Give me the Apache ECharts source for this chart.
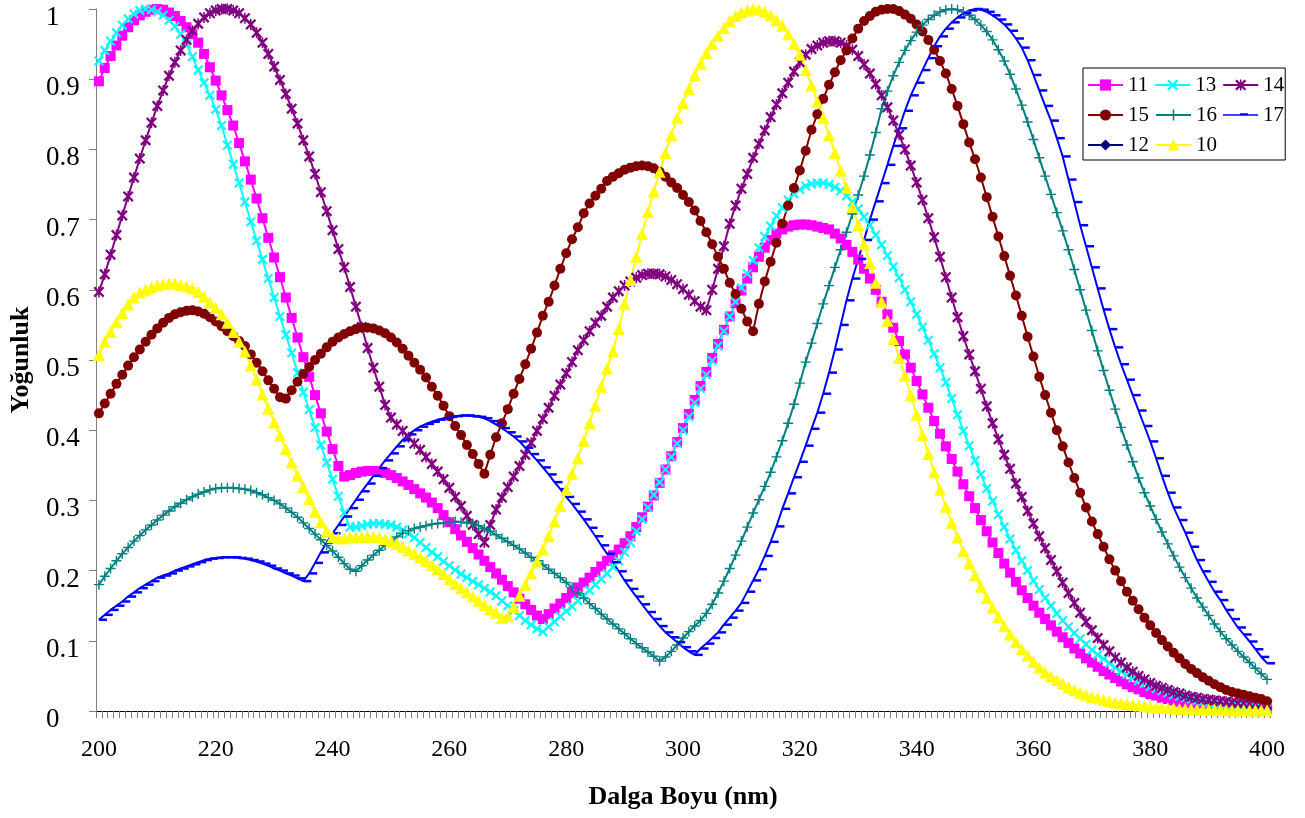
<!DOCTYPE html>
<html>
<head>
<meta charset="utf-8">
<script src="https://cdn.jsdelivr.net/npm/echarts@6/dist/echarts.min.js"></script>
<style>html,body{margin:0;padding:0;background:#fff;}#c{width:1305px;height:818px;}</style>
</head>
<body>
<div id="c"></div>
<script>
// wavelength categories 200..400 nm (1 nm step)
const categories = [];
for (let w = 200; w <= 400; w++) categories.push(String(w));

const s11 = [
0.897,0.916,0.933,0.948,0.962,0.974,0.984,0.991,0.996,0.999,
1.000,0.999,0.995,0.990,0.983,0.974,0.964,0.952,0.936,0.917,
0.898,0.877,0.856,0.834,0.809,0.783,0.757,0.730,0.702,0.674,
0.646,0.618,0.589,0.560,0.532,0.504,0.476,0.450,0.424,0.398,
0.373,0.349,0.334,0.336,0.339,0.341,0.342,0.342,0.341,0.339,
0.336,0.332,0.327,0.322,0.316,0.310,0.304,0.297,0.289,0.279,
0.269,0.259,0.250,0.241,0.232,0.223,0.214,0.205,0.196,0.187,
0.178,0.169,0.160,0.152,0.144,0.136,0.131,0.138,0.146,0.153,
0.161,0.168,0.176,0.183,0.190,0.198,0.206,0.214,0.222,0.230,
0.239,0.249,0.262,0.276,0.291,0.307,0.325,0.344,0.363,0.383,
0.403,0.423,0.443,0.463,0.483,0.503,0.523,0.543,0.562,0.581,
0.599,0.616,0.632,0.647,0.660,0.671,0.680,0.686,0.690,0.692,
0.693,0.693,0.692,0.690,0.688,0.686,0.680,0.673,0.664,0.654,
0.643,0.630,0.616,0.600,0.583,0.565,0.546,0.527,0.508,0.489,
0.470,0.451,0.432,0.413,0.395,0.377,0.359,0.341,0.323,0.306,
0.289,0.272,0.256,0.240,0.225,0.210,0.197,0.184,0.172,0.161,
0.150,0.140,0.131,0.122,0.113,0.105,0.097,0.089,0.082,0.075,
0.069,0.063,0.057,0.052,0.047,0.042,0.038,0.034,0.031,0.027,
0.024,0.022,0.019,0.017,0.015,0.013,0.012,0.011,0.010,0.009,
0.008,0.007,0.006,0.006,0.005,0.005,0.004,0.004,0.003,0.003,0.003];

const s13 = [
0.926,0.941,0.954,0.966,0.977,0.986,0.993,0.998,1.000,0.999,
0.996,0.991,0.984,0.975,0.964,0.950,0.932,0.913,0.895,0.877,
0.857,0.834,0.806,0.779,0.752,0.725,0.697,0.670,0.643,0.616,
0.589,0.562,0.536,0.510,0.482,0.454,0.429,0.404,0.379,0.354,
0.330,0.306,0.282,0.262,0.262,0.264,0.266,0.267,0.267,0.266,
0.265,0.262,0.258,0.253,0.247,0.240,0.233,0.226,0.220,0.213,
0.207,0.201,0.195,0.190,0.185,0.180,0.175,0.170,0.164,0.157,
0.150,0.143,0.136,0.129,0.123,0.117,0.113,0.120,0.127,0.135,
0.142,0.149,0.157,0.164,0.172,0.180,0.188,0.196,0.205,0.214,
0.226,0.240,0.256,0.273,0.290,0.308,0.326,0.344,0.362,0.381,
0.400,0.419,0.439,0.459,0.479,0.499,0.520,0.541,0.562,0.583,
0.603,0.623,0.642,0.660,0.676,0.691,0.705,0.717,0.728,0.737,
0.743,0.748,0.751,0.752,0.752,0.750,0.746,0.741,0.734,0.725,
0.715,0.704,0.692,0.678,0.664,0.649,0.633,0.617,0.600,0.583,
0.565,0.547,0.528,0.509,0.489,0.468,0.445,0.422,0.399,0.378,
0.357,0.337,0.317,0.299,0.280,0.262,0.245,0.229,0.214,0.200,
0.186,0.173,0.161,0.150,0.139,0.129,0.120,0.111,0.103,0.095,
0.087,0.080,0.074,0.068,0.062,0.057,0.052,0.047,0.043,0.039,
0.035,0.032,0.029,0.026,0.023,0.021,0.019,0.017,0.015,0.014,
0.012,0.011,0.010,0.009,0.008,0.007,0.007,0.006,0.005,0.005,0.004];

const s14 = [
0.597,0.622,0.650,0.678,0.706,0.733,0.760,0.787,0.813,0.838,
0.862,0.884,0.905,0.924,0.941,0.956,0.969,0.979,0.988,0.994,
0.998,1.000,1.000,0.998,0.994,0.987,0.978,0.966,0.952,0.936,
0.918,0.899,0.879,0.858,0.837,0.813,0.790,0.765,0.739,0.712,
0.685,0.658,0.632,0.604,0.576,0.547,0.517,0.489,0.462,0.436,
0.418,0.408,0.399,0.390,0.381,0.372,0.362,0.352,0.341,0.330,
0.318,0.305,0.292,0.278,0.265,0.252,0.240,0.265,0.287,0.304,
0.319,0.334,0.349,0.365,0.382,0.399,0.416,0.432,0.449,0.465,
0.481,0.497,0.514,0.528,0.541,0.553,0.563,0.576,0.589,0.598,
0.606,0.612,0.617,0.621,0.623,0.623,0.622,0.619,0.614,0.608,
0.601,0.593,0.584,0.576,0.571,0.600,0.630,0.662,0.694,0.720,
0.744,0.765,0.788,0.808,0.827,0.846,0.864,0.880,0.895,0.911,
0.924,0.935,0.943,0.948,0.952,0.954,0.954,0.952,0.948,0.942,
0.933,0.921,0.908,0.893,0.877,0.860,0.841,0.821,0.800,0.777,
0.753,0.728,0.702,0.675,0.647,0.618,0.589,0.561,0.534,0.508,
0.484,0.459,0.434,0.410,0.387,0.365,0.345,0.324,0.305,0.285,
0.267,0.249,0.232,0.215,0.199,0.183,0.168,0.154,0.140,0.127,
0.115,0.104,0.094,0.085,0.076,0.069,0.062,0.056,0.050,0.045,
0.040,0.036,0.033,0.030,0.027,0.025,0.022,0.020,0.019,0.017,
0.016,0.015,0.014,0.013,0.012,0.011,0.011,0.010,0.010,0.009,0.009];

const s15 = [
0.424,0.438,0.452,0.466,0.479,0.492,0.504,0.515,0.526,0.536,
0.545,0.553,0.560,0.565,0.568,0.570,0.571,0.569,0.566,0.561,
0.555,0.548,0.541,0.534,0.527,0.520,0.508,0.496,0.484,0.471,
0.459,0.447,0.445,0.457,0.469,0.480,0.490,0.500,0.509,0.518,
0.526,0.532,0.537,0.541,0.544,0.546,0.546,0.545,0.542,0.538,
0.532,0.525,0.516,0.506,0.496,0.486,0.475,0.462,0.449,0.435,
0.420,0.406,0.393,0.379,0.366,0.352,0.338,0.365,0.390,0.410,
0.430,0.452,0.473,0.494,0.516,0.539,0.563,0.583,0.606,0.630,
0.652,0.672,0.689,0.709,0.723,0.734,0.744,0.755,0.761,0.766,
0.771,0.774,0.776,0.777,0.776,0.773,0.768,0.761,0.753,0.745,
0.735,0.725,0.713,0.698,0.682,0.665,0.647,0.630,0.610,0.594,
0.573,0.555,0.541,0.580,0.612,0.640,0.667,0.694,0.720,0.745,
0.770,0.798,0.828,0.850,0.872,0.892,0.910,0.927,0.941,0.958,
0.972,0.983,0.990,0.996,0.999,1.000,1.000,0.997,0.992,0.986,
0.978,0.968,0.956,0.942,0.926,0.908,0.886,0.862,0.836,0.810,
0.786,0.760,0.732,0.704,0.676,0.648,0.620,0.592,0.563,0.533,
0.505,0.476,0.450,0.425,0.400,0.377,0.354,0.332,0.311,0.290,
0.270,0.252,0.234,0.216,0.200,0.185,0.170,0.157,0.145,0.133,
0.122,0.111,0.101,0.092,0.083,0.075,0.067,0.060,0.054,0.048,
0.043,0.038,0.034,0.030,0.027,0.025,0.023,0.021,0.019,0.017,0.014];

const s16 = [
0.180,0.192,0.203,0.214,0.224,0.233,0.242,0.250,0.258,0.265,
0.272,0.279,0.285,0.291,0.296,0.301,0.305,0.309,0.312,0.315,
0.317,0.318,0.318,0.318,0.317,0.316,0.314,0.311,0.308,0.304,
0.300,0.295,0.289,0.283,0.276,0.268,0.260,0.252,0.244,0.236,
0.228,0.219,0.210,0.202,0.199,0.207,0.215,0.222,0.229,0.236,
0.242,0.248,0.253,0.257,0.260,0.262,0.264,0.266,0.267,0.268,
0.269,0.270,0.269,0.268,0.267,0.264,0.260,0.256,0.251,0.246,
0.241,0.236,0.231,0.225,0.219,0.214,0.208,0.202,0.196,0.190,
0.183,0.176,0.168,0.161,0.153,0.146,0.138,0.131,0.124,0.117,
0.110,0.103,0.096,0.090,0.084,0.078,0.071,0.077,0.085,0.094,
0.104,0.113,0.121,0.129,0.139,0.152,0.168,0.185,0.203,0.222,
0.242,0.262,0.282,0.301,0.320,0.340,0.362,0.385,0.410,0.437,
0.467,0.497,0.524,0.552,0.580,0.606,0.632,0.657,0.682,0.708,
0.735,0.762,0.792,0.824,0.858,0.883,0.905,0.924,0.941,0.955,
0.967,0.977,0.985,0.991,0.996,0.999,1.000,0.999,0.996,0.991,
0.985,0.977,0.968,0.956,0.942,0.926,0.907,0.886,0.863,0.839,
0.814,0.788,0.762,0.736,0.710,0.684,0.657,0.629,0.600,0.571,
0.542,0.513,0.485,0.457,0.430,0.404,0.379,0.355,0.332,0.311,
0.292,0.273,0.255,0.238,0.221,0.205,0.190,0.175,0.161,0.148,
0.136,0.124,0.113,0.103,0.094,0.085,0.077,0.069,0.061,0.053,0.045];

const s17 = [
0.130,0.137,0.144,0.150,0.156,0.163,0.169,0.175,0.180,0.185,
0.190,0.193,0.196,0.200,0.203,0.206,0.209,0.212,0.215,0.217,
0.218,0.219,0.219,0.219,0.218,0.217,0.215,0.213,0.210,0.207,
0.203,0.200,0.196,0.193,0.189,0.185,0.196,0.211,0.226,0.240,
0.253,0.265,0.277,0.289,0.301,0.313,0.324,0.335,0.346,0.357,
0.367,0.377,0.386,0.394,0.400,0.405,0.409,0.412,0.415,0.417,
0.419,0.420,0.421,0.421,0.420,0.419,0.417,0.413,0.408,0.403,
0.397,0.391,0.384,0.375,0.366,0.357,0.347,0.337,0.326,0.316,
0.305,0.295,0.284,0.273,0.261,0.249,0.236,0.224,0.212,0.199,
0.186,0.174,0.163,0.152,0.141,0.131,0.121,0.112,0.105,0.098,
0.091,0.085,0.080,0.089,0.096,0.104,0.112,0.123,0.133,0.143,
0.154,0.170,0.186,0.202,0.221,0.241,0.263,0.288,0.310,0.333,
0.355,0.378,0.402,0.425,0.452,0.482,0.515,0.550,0.585,0.616,
0.644,0.671,0.700,0.726,0.752,0.778,0.805,0.830,0.855,0.877,
0.895,0.913,0.930,0.947,0.961,0.972,0.981,0.988,0.994,0.998,
1.000,0.999,0.996,0.991,0.985,0.978,0.969,0.958,0.945,0.927,
0.906,0.884,0.862,0.841,0.816,0.790,0.757,0.725,0.692,0.662,
0.632,0.602,0.572,0.544,0.518,0.494,0.472,0.450,0.428,0.406,
0.384,0.360,0.335,0.311,0.290,0.272,0.254,0.234,0.215,0.199,
0.184,0.170,0.158,0.144,0.131,0.119,0.109,0.099,0.088,0.077,0.068];

// series 12 is listed in the legend but no curve of it is visible in the chart
const s12 = [];

const s10 = [
0.507,0.526,0.540,0.554,0.567,0.579,0.589,0.596,0.600,0.604,
0.606,0.608,0.609,0.609,0.607,0.605,0.602,0.597,0.590,0.582,
0.574,0.565,0.553,0.540,0.526,0.512,0.492,0.472,0.451,0.431,
0.411,0.392,0.373,0.354,0.336,0.319,0.302,0.284,0.269,0.256,
0.248,0.246,0.246,0.247,0.248,0.248,0.248,0.248,0.247,0.245,
0.242,0.238,0.234,0.229,0.224,0.219,0.214,0.208,0.202,0.195,
0.188,0.181,0.175,0.169,0.163,0.157,0.151,0.145,0.140,0.133,
0.135,0.148,0.164,0.180,0.196,0.213,0.230,0.249,0.270,0.292,
0.315,0.338,0.360,0.385,0.410,0.435,0.462,0.488,0.512,0.544,
0.580,0.614,0.647,0.680,0.711,0.740,0.768,0.795,0.820,0.845,
0.866,0.886,0.906,0.922,0.937,0.950,0.962,0.973,0.983,0.990,
0.995,0.998,1.000,0.999,0.996,0.991,0.984,0.976,0.964,0.950,
0.935,0.913,0.891,0.868,0.845,0.820,0.795,0.770,0.745,0.718,
0.692,0.665,0.638,0.610,0.583,0.556,0.530,0.503,0.478,0.450,
0.422,0.393,0.366,0.340,0.315,0.291,0.268,0.247,0.228,0.210,
0.193,0.177,0.161,0.147,0.134,0.121,0.109,0.098,0.088,0.079,
0.070,0.062,0.055,0.049,0.044,0.039,0.034,0.030,0.026,0.023,
0.020,0.018,0.016,0.014,0.012,0.011,0.010,0.009,0.008,0.007,
0.006,0.005,0.005,0.004,0.004,0.003,0.003,0.003,0.002,0.002,
0.002,0.002,0.002,0.001,0.001,0.001,0.001,0.001,0.001,0.001,0.001];

const legendNames = ['11', '13', '14', '15', '16', '17', '12', '10'];
const xTitle = 'Dalga Boyu (nm)';
const yTitle = 'Yoğunluk';

const FONT = "'Liberation Serif','Times New Roman',serif";
const SYM_X = 'path://M0,1.5L1.5,0L5,3.5L8.5,0L10,1.5L6.5,5L10,8.5L8.5,10L5,6.5L1.5,10L0,8.5L3.5,5Z';
const SYM_STAR = 'path://M0,1.5L1.5,0L5,3.5L8.5,0L10,1.5L6.5,5L10,8.5L8.5,10L5,6.5L1.5,10L0,8.5L3.5,5Z M4.3,0H5.7V10H4.3Z';
const SYM_PLUS = 'path://M4.3,0H5.7V4.3H10V5.7H5.7V10H4.3V5.7H0V4.3H4.3Z';
const SYM_DASH = 'path://M0,0H10V3H0Z';
// legend icon for series 17: line with a short dash in the middle (tiny corner specks fix the box)
const LEG_DASH = 'path://M0,0L0.01,0L0,0.01Z M35,14L34.99,14L35,13.99Z M0,6.2H35V7.8H0Z M17,5.2H25V7.8H17Z';

function mk(name, data, color, symbol, size, extra) {
  return Object.assign({
    name: name, type: 'line', data: data,
    symbol: symbol, symbolSize: size, showSymbol: true, showAllSymbol: true,
    lineStyle: { color: color, width: 2 },
    itemStyle: { color: color, borderWidth: 0 },
    emphasis: { disabled: true }, silent: true, animation: false
  }, extra || {});
}

const legendData = legendNames.map(n => n === '17' ? { name: n, icon: LEG_DASH } : { name: n });

const chart = echarts.init(document.getElementById('c'), null, { renderer: 'canvas' });
chart.setOption({
  backgroundColor: '#ffffff',
  animation: false,
  grid: { left: 96, right: 35, top: 9, bottom: 107 },
  legend: {
    left: 1083, top: 68, width: 215, orient: 'horizontal',
    padding: [5, 1, 3, 4], itemGap: 6, itemWidth: 35, itemHeight: 14,
    borderColor: '#000', borderWidth: 1, backgroundColor: '#fff',
    textStyle: { fontFamily: FONT, fontSize: 21, color: '#000', lineHeight: 24 },
    data: legendData
  },
  xAxis: {
    type: 'category', data: categories, boundaryGap: true,
    name: xTitle, nameLocation: 'middle', nameGap: 73,
    nameTextStyle: { fontFamily: FONT, fontSize: 26, fontWeight: 'bold', color: '#000' },
    axisLine: { lineStyle: { color: '#000', width: 1 } },
    axisTick: { show: true, interval: 0, length: 7, lineStyle: { color: '#808080' } },
    axisLabel: { interval: 19, margin: 27, fontFamily: FONT, fontSize: 24, color: '#000' },
    splitLine: { show: false }
  },
  yAxis: {
    type: 'value', min: 0, max: 1, interval: 0.1,
    name: yTitle, nameLocation: 'middle', nameGap: 62, nameRotate: 90,
    nameTextStyle: { fontFamily: FONT, fontSize: 26, fontWeight: 'bold', color: '#000' },
    axisLine: { show: true, lineStyle: { color: '#808080', width: 1 } },
    axisTick: { show: true, length: 7, lineStyle: { color: '#808080' } },
    axisLabel: { align: 'left', verticalAlign: 'top', lineHeight: 18, margin: 50, fontFamily: FONT, fontSize: 27, color: '#000' },
    splitLine: { show: false }
  },
  series: [
    mk('11', s11, '#FF00FF', 'rect', 10),
    mk('13', s13, '#00FFFF', SYM_X, 10),
    mk('14', s14, '#800080', SYM_STAR, 11),
    mk('15', s15, '#800000', 'circle', 10),
    mk('16', s16, '#008080', SYM_PLUS, 10),
    mk('17', s17, '#0000FF', SYM_DASH, [8, 2.5], { symbolOffset: [4, 0] }),
    mk('12', s12, '#000080', 'diamond', 6),
    mk('10', s10, '#FFFF00', 'triangle', 12)
  ]
});
</script>
</body>
</html>
